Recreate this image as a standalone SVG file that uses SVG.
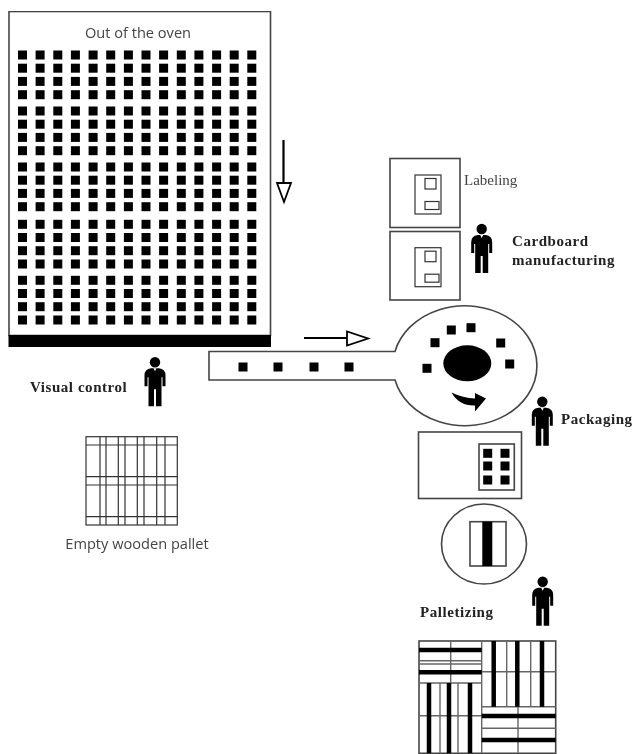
<svg xmlns="http://www.w3.org/2000/svg" xmlns:xlink="http://www.w3.org/1999/xlink" width="640" height="754" viewBox="0 0 640 754">
<style>
.ln{fill:none;stroke:#444;stroke-width:1.6}
.wh{fill:#fff;stroke:#444;stroke-width:1.6}
.thin{fill:none;stroke:#333;stroke-width:1.2}
.gl{fill:none;stroke:#666;stroke-width:1.4}
.bk{fill:none;stroke:#000;stroke-width:4.5}
.sq{fill:#000}
.lab{font-family:"Liberation Serif",serif;font-weight:bold;font-size:15px;letter-spacing:0.55px;fill:#222}
.cap{font-family:"Open Sans","Noto Sans",sans-serif;font-size:14.6px;fill:#444}
</style>
<defs>
<filter id="soft" x="0" y="0" width="100%" height="100%"><feGaussianBlur stdDeviation="0.5"/></filter>
<rect id="d" x="-4.5" y="-4.5" width="9" height="9" class="sq"/>
<g id="row">
<use xlink:href="#d" x="22.5"/><use xlink:href="#d" x="40.1"/><use xlink:href="#d" x="57.8"/><use xlink:href="#d" x="75.4"/><use xlink:href="#d" x="93.1"/><use xlink:href="#d" x="110.7"/><use xlink:href="#d" x="128.4"/><use xlink:href="#d" x="146"/><use xlink:href="#d" x="163.6"/><use xlink:href="#d" x="181.3"/><use xlink:href="#d" x="198.9"/><use xlink:href="#d" x="216.6"/><use xlink:href="#d" x="234.2"/><use xlink:href="#d" x="251.8"/>
</g>
<g id="block"><use xlink:href="#row"/><use xlink:href="#row" y="13.2"/><use xlink:href="#row" y="26.4"/><use xlink:href="#row" y="39.7"/></g>
<g id="person">
<circle r="5.2" fill="#000"/>
<path d="M-4,6 L4,6 Q10.5,7 10.5,13 L10.5,24 L7.5,24 L7.5,15 L6.5,15 L6.5,44 L1,44 L1,27 L-1,27 L-1,44 L-6.5,44 L-6.5,15 L-7.5,15 L-7.5,24 L-10.5,24 L-10.5,13 Q-10.5,7 -4,6 Z" fill="#000"/>
<path d="M-1.5,6 L0,9 L1.5,6 Z" fill="#fff"/>
</g>
<g id="carton">
<rect x="415" y="175" width="26" height="39" class="thin"/>
<rect x="425" y="178.5" width="11" height="10.5" class="thin"/>
<rect x="425" y="201.5" width="14" height="8" class="thin"/>
</g>
</defs>
<rect width="640" height="754" fill="#fff"/>
<g filter="url(#soft)">
<g id="oven">
<rect x="9" y="11.5" width="261.5" height="324" class="ln"/>
<rect x="8.5" y="335" width="262.5" height="12" fill="#000"/>
<text x="138" y="38" text-anchor="middle" class="cap">Out of the oven</text>
<use xlink:href="#block" y="55"/><use xlink:href="#block" y="111"/><use xlink:href="#block" y="167"/><use xlink:href="#block" y="224.3"/><use xlink:href="#block" y="280.3"/>
</g>
<g id="connectors">
<path d="M283.5,140 V183" stroke="#000" stroke-width="2.2" fill="none"/>
<path d="M277,183 H291 L284,202 Z" fill="#fff" stroke="#000" stroke-width="1.8"/>
<path d="M304,338 H347" stroke="#000" stroke-width="2.2" fill="none"/>
<path d="M347,331.5 V345.5 L368,338.5 Z" fill="#fff" stroke="#000" stroke-width="1.8"/>
</g>
<g id="turntable">
<path d="M209,351.5 H395 A72,60 0 1 1 395,380 H209 Z" class="wh"/>
<use xlink:href="#d" x="243" y="367"/><use xlink:href="#d" x="278" y="367"/><use xlink:href="#d" x="314" y="367"/><use xlink:href="#d" x="349" y="367"/>
<use xlink:href="#d" x="451.3" y="330"/><use xlink:href="#d" x="471" y="327.7"/><use xlink:href="#d" x="435" y="342.7"/><use xlink:href="#d" x="500.7" y="343"/><use xlink:href="#d" x="427" y="368.3"/><use xlink:href="#d" x="509.7" y="364"/>
<ellipse cx="467.3" cy="363.3" rx="24" ry="18" fill="#000"/>
<path d="M451.5,392.5 Q463,398 475,398.5 L475,393 L486,398.5 L475,411.5 L475,405.5 Q459,406 451.5,392.5 Z" fill="#000"/>
</g>
<g id="labeling">
<rect x="390" y="158.5" width="70" height="69" class="ln"/>
<use xlink:href="#carton"/>
<text x="464" y="185" font-family="'Liberation Serif',serif" font-size="15" fill="#444">Labeling</text>
</g>
<g id="cardboard">
<rect x="390" y="231.5" width="70" height="68.5" class="ln"/>
<use xlink:href="#carton" y="72.7"/>
<use xlink:href="#person" x="481.7" y="229"/>
<text x="512" y="246" class="lab">Cardboard</text>
<text x="512" y="265" class="lab">manufacturing</text>
</g>
<g id="visual-control">
<use xlink:href="#person" x="155" y="362.3"/>
<text x="30" y="392" class="lab">Visual control</text>
</g>
<g id="empty-pallet">
<rect x="86" y="436.7" width="91.3" height="88.3" class="thin"/>
<path d="M86,445 H177.3 M86,476.7 H177.3 M86,485 H177.3 M86,516.7 H177.3 M100,436.7 V525 M106,436.7 V525 M118.3,436.7 V525 M125,436.7 V525 M137.3,436.7 V525 M144,436.7 V525 M156.7,436.7 V525 M165,436.7 V525" class="thin"/>
<text x="137" y="549" text-anchor="middle" class="cap">Empty wooden pallet</text>
</g>
<g id="packaging">
<use xlink:href="#person" x="542.3" y="401.7"/>
<text x="561" y="424" class="lab">Packaging</text>
<rect x="418.5" y="432" width="103" height="66.5" class="ln"/>
<rect x="479" y="444" width="35.3" height="46" class="ln"/>
<use xlink:href="#d" x="487.7" y="453.3"/><use xlink:href="#d" x="505" y="453.3"/><use xlink:href="#d" x="487.7" y="466"/><use xlink:href="#d" x="505" y="466"/><use xlink:href="#d" x="487.7" y="480"/><use xlink:href="#d" x="505" y="480"/>
</g>
<g id="wrapper">
<ellipse cx="484" cy="544" rx="42.5" ry="40" class="ln"/>
<rect x="470" y="521.7" width="36" height="44.3" class="ln"/>
<rect x="482.3" y="521.7" width="10" height="44.3" fill="#000"/>
</g>
<g id="palletizing">
<use xlink:href="#person" x="542.7" y="581.7"/>
<text x="420" y="617" class="lab">Palletizing</text>
<rect x="419" y="641" width="136.7" height="112.3" class="ln"/>
<path d="M419,660.7 H481.7 M419,664 H481.7 M450.7,641 V683 M481.7,641 V753.3 M419,683 H481.7 M481.7,671.7 H555.7 M506.7,641 V706.7 M530.7,641 V706.7 M481.7,706.7 H555.7 M440,683 V753.3 M458,683 V753.3 M419,715.7 H481.7 M481.7,728.3 H555.7 M518,706.7 V753.3" class="gl"/>
<path d="M419,650 H481.7 M419,672.3 H481.7 M493.7,641 V706.7 M517.3,641 V706.7 M542,641 V706.7 M429,683 V753.3 M449,683 V753.3 M470,683 V753.3 M481.7,716 H555.7 M481.7,740 H555.7" class="bk"/>
</g>
</g>
</svg>
